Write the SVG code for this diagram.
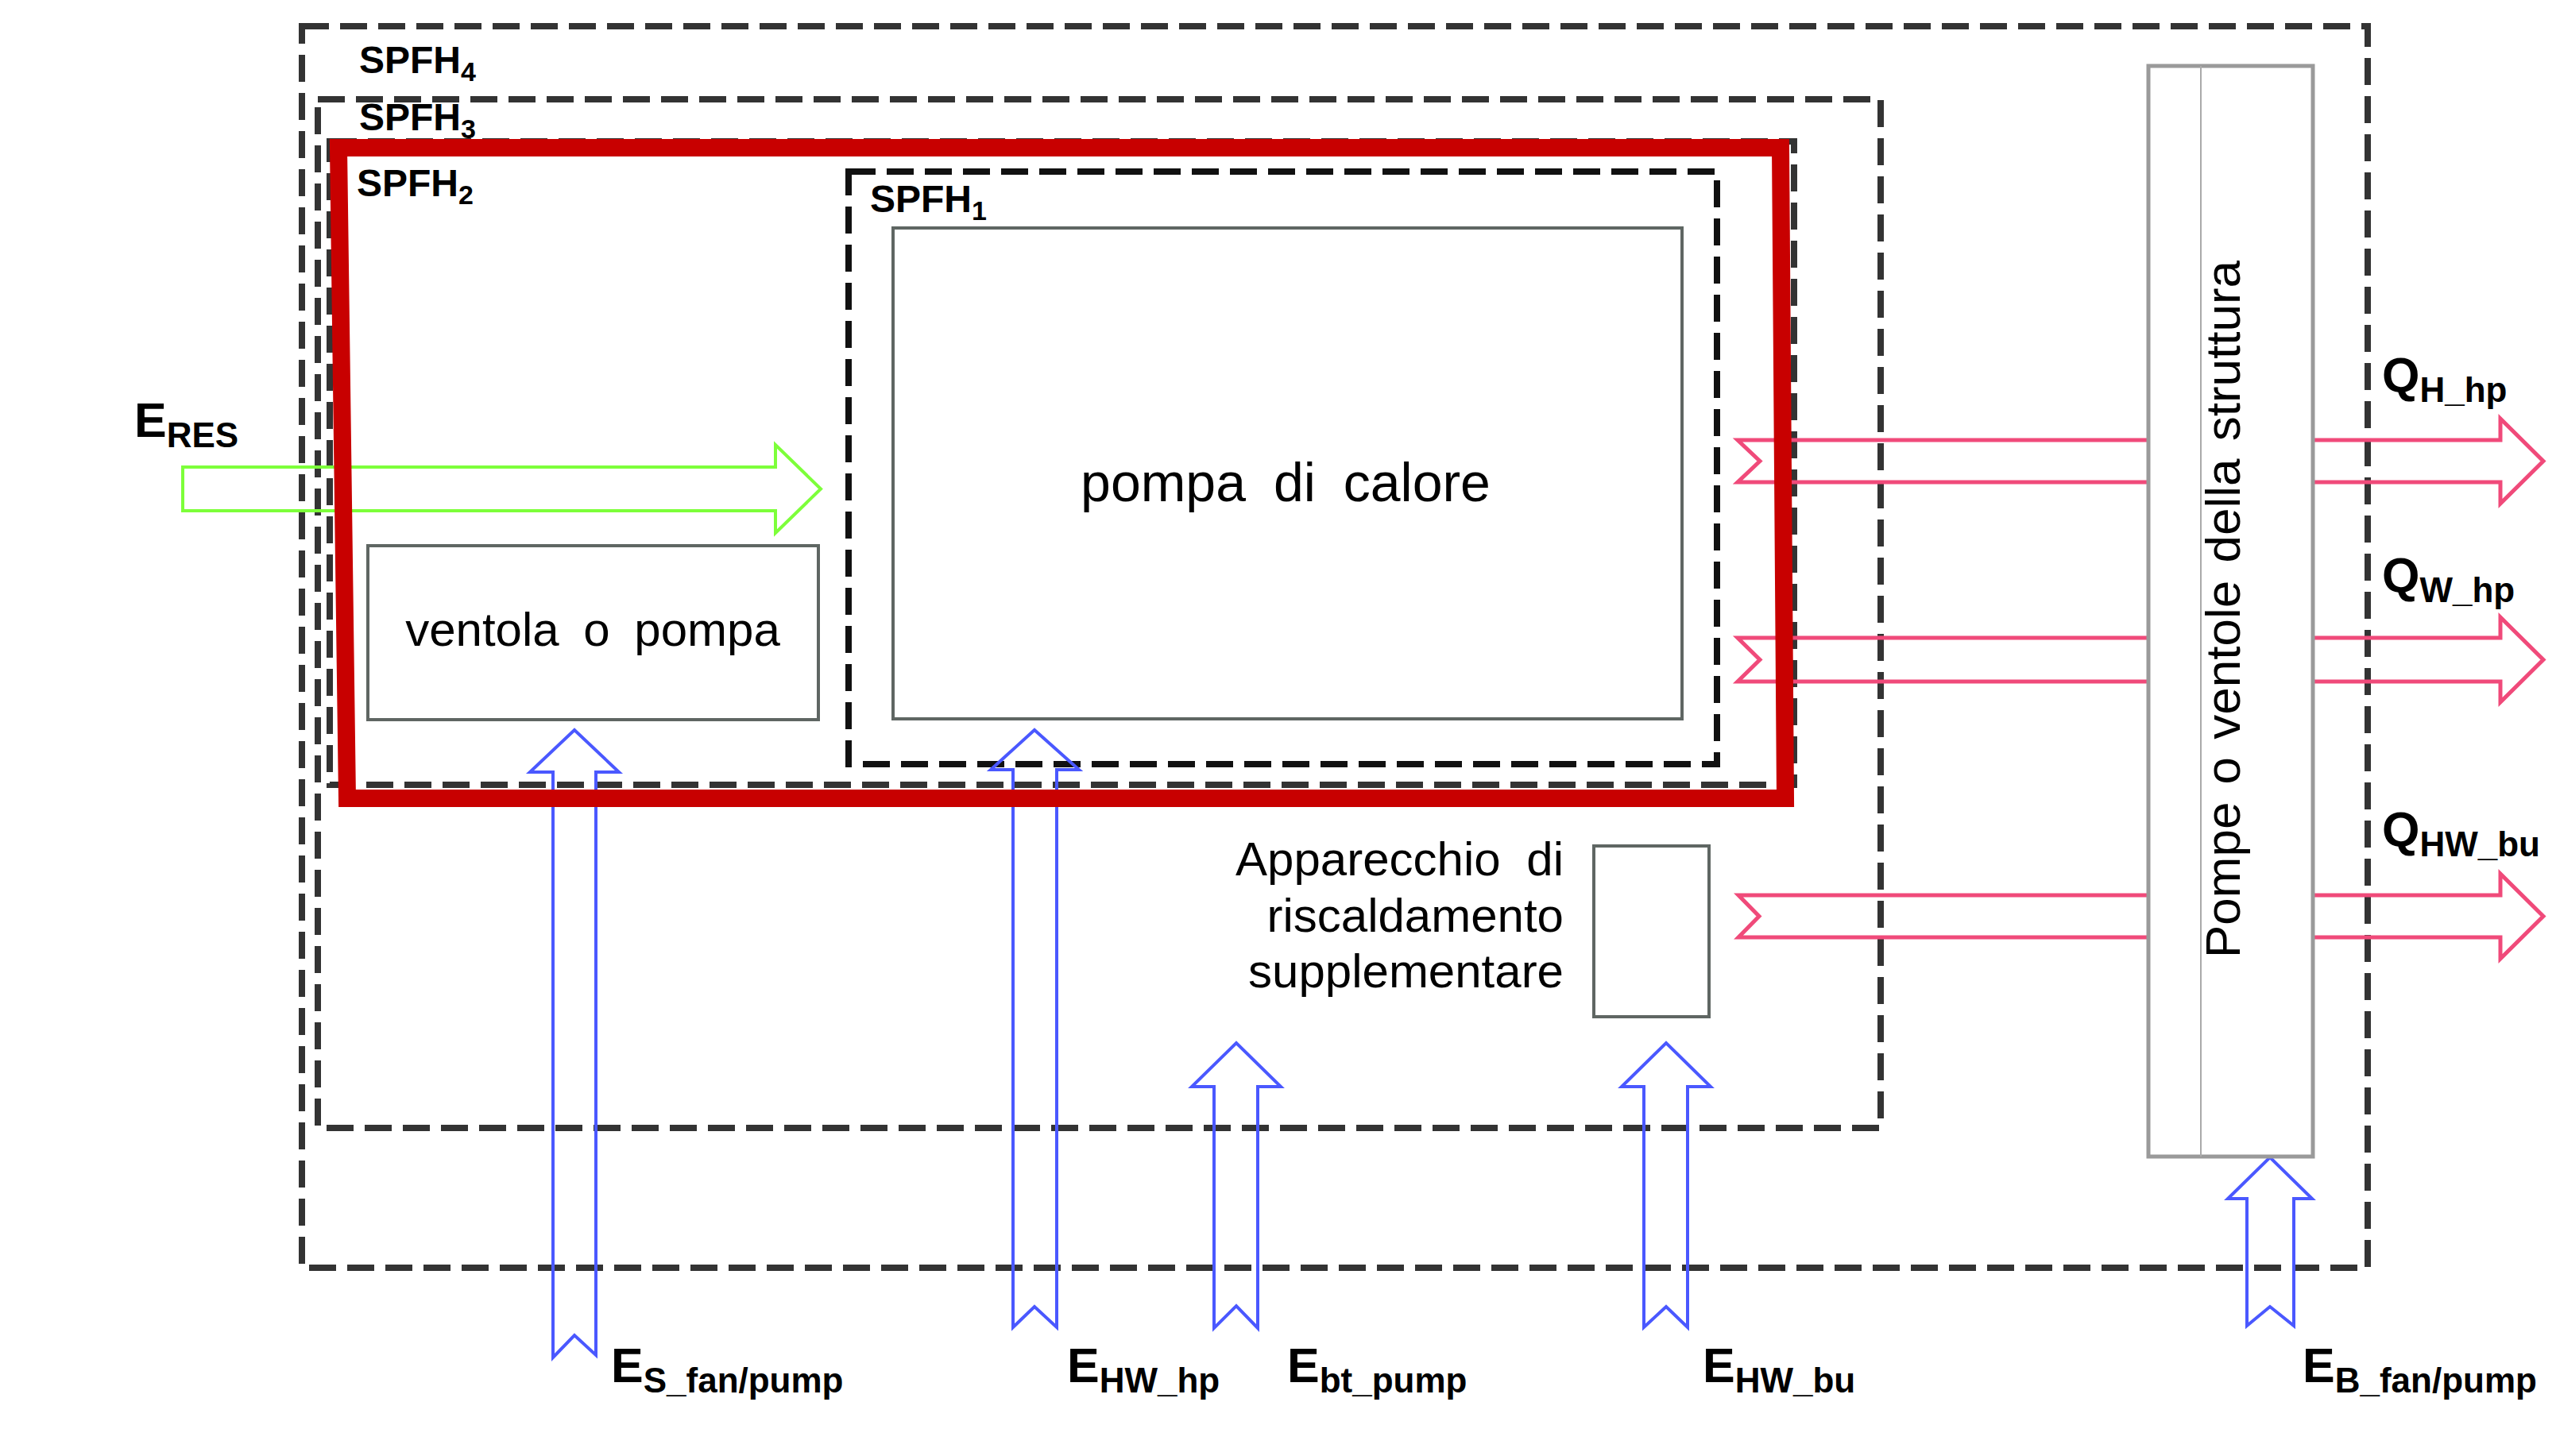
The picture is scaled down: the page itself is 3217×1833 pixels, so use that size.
<svg xmlns="http://www.w3.org/2000/svg" width="3217" height="1833" viewBox="0 0 3217 1833">
<style>
.dash{fill:none;stroke:#333;stroke-width:8;stroke-dasharray:34 14}
.dash1{fill:none;stroke:#111;stroke-width:8;stroke-dasharray:34 14}
.box{fill:#fff;stroke:#5f6663;stroke-width:4}
.t{font-family:"Liberation Sans",Arial,sans-serif;fill:#000}
.b{font-family:"Liberation Sans",Arial,sans-serif;font-weight:bold;fill:#000}
.blue{fill:none;stroke:#4a58ff;stroke-width:4;stroke-linejoin:miter}
.pink{fill:none;stroke:#f04a7a;stroke-width:5;stroke-linejoin:miter}
.green{fill:none;stroke:#7dff3a;stroke-width:4;stroke-linejoin:miter}
.red{fill:none;stroke:#c80000;stroke-width:22;stroke-linejoin:miter}
</style>
<rect width="3217" height="1833" fill="#fff"/>

<g id="spfh4">
  <rect class="dash" x="380" y="33" width="2600" height="1563"/>
  <text class="b" x="452" y="92" font-size="48">SPFH<tspan font-size="34" dy="10">4</tspan></text>
</g>
<g id="spfh3">
  <rect class="dash" x="400" y="125" width="1967" height="1295"/>
  <text class="b" x="452" y="164" font-size="48">SPFH<tspan font-size="34" dy="10">3</tspan></text>
</g>
<g id="spfh2">
  <rect class="dash" x="415" y="178" width="1843" height="810"/>
  <text class="b" x="449" y="247" font-size="48">SPFH<tspan font-size="34" dy="10">2</tspan></text>
</g>
<g id="spfh1">
  <rect class="dash1" x="1068" y="216" width="1093" height="746"/>
  <text class="b" x="1095" y="267" font-size="48">SPFH<tspan font-size="34" dy="10">1</tspan></text>
</g>

<g id="ventola">
  <rect class="box" x="463" y="687" width="567" height="219"/>
  <text class="t" x="746" y="813" text-anchor="middle" font-size="60" word-spacing="14">ventola o pompa</text>
</g>
<g id="pompa">
  <rect class="box" x="1124" y="287" width="993" height="618" stroke="#7d8280"/>
  <text class="t" x="1618" y="631" text-anchor="middle" font-size="68" word-spacing="16">pompa di calore</text>
</g>
<g id="supplementare">
  <rect class="box" x="2006" y="1065" width="145" height="215" stroke="#4d5d58"/>
  <text class="t" text-anchor="end" font-size="60" word-spacing="16"><tspan x="1968" y="1102">Apparecchio di</tspan><tspan x="1968" y="1173">riscaldamento</tspan><tspan x="1968" y="1243">supplementare</tspan></text>
</g>

<g id="connectors">
  <path id="e-res" class="green" d="M230,588 L976,588 L976,560 L1033,615.5 L976,671 L976,643 L230,643 Z"/>
  <path id="e-s" class="blue" d="M696,1709 L696,972 L667,972 L723,919 L779,972 L750,972 L750,1706 L723,1681 Z"/>
  <path id="e-hw-hp" class="blue" d="M1275,1671 L1275,969 L1247,969 L1302,919 L1358,969 L1330,969 L1330,1671 L1302,1645 Z"/>
  <path id="e-bt" class="blue" d="M1528,1672 L1528,1368 L1500,1368 L1556,1313 L1612,1368 L1583,1368 L1583,1672 L1556,1644 Z"/>
  <path id="e-hw-bu" class="blue" d="M2069,1671 L2069,1368 L2041,1368 L2097,1313 L2153,1368 L2124,1368 L2124,1671 L2097,1645 Z"/>
  <path id="e-b" class="blue" d="M2828,1669 L2828,1509 L2804,1509 L2857,1457 L2910,1509 L2887,1509 L2887,1669 L2857,1645 Z"/>
  <path id="q-h" class="pink" d="M2187,554 L3147,554 L3147,527 L3201,580.5 L3147,634 L3147,607 L2187,607 L2215,580.5 Z"/>
  <path id="q-w" class="pink" d="M2187,803 L3147,803 L3147,777 L3201,830.5 L3147,884 L3147,858 L2187,858 L2215,830.5 Z"/>
  <path id="q-hw" class="pink" d="M2188,1127 L3147,1127 L3147,1100 L3201,1153.5 L3147,1207 L3147,1180 L2188,1180 L2214,1153.5 Z"/>
</g>

<g id="colonna">
  <rect x="2704" y="83" width="207" height="1373" fill="#fff" stroke="#9a9a9a" stroke-width="5"/>
  <line x1="2770" y1="83" x2="2770" y2="1456" stroke="#aaa" stroke-width="2"/>
  <text class="t" transform="translate(2819,767) rotate(-90)" text-anchor="middle" font-size="62" word-spacing="5">Pompe o ventole della struttura</text>
</g>

<g id="spfh2-highlight">
  <path class="red" d="M426,186 L2241,186 L2247,1005 L437,1005 Z"/>
</g>

<g id="labels">
  <text class="b" x="169" y="550" font-size="61">E<tspan font-size="44" dy="13">RES</tspan></text>
  <text class="b" x="769" y="1740" font-size="61">E<tspan font-size="44" dy="13">S_fan/pump</tspan></text>
  <text class="b" x="1343" y="1740" font-size="61">E<tspan font-size="44" dy="13">HW_hp</tspan></text>
  <text class="b" x="1620" y="1740" font-size="61">E<tspan font-size="44" dy="13">bt_pump</tspan></text>
  <text class="b" x="2143" y="1740" font-size="61">E<tspan font-size="44" dy="13">HW_bu</tspan></text>
  <text class="b" x="2898" y="1740" font-size="61">E<tspan font-size="44" dy="13">B_fan/pump</tspan></text>
  <text class="b" x="2998" y="493" font-size="61">Q<tspan font-size="44" dy="13">H_hp</tspan></text>
  <text class="b" x="2998" y="745" font-size="61">Q<tspan font-size="44" dy="13">W_hp</tspan></text>
  <text class="b" x="2998" y="1065" font-size="61">Q<tspan font-size="44" dy="13">HW_bu</tspan></text>
</g>
</svg>
